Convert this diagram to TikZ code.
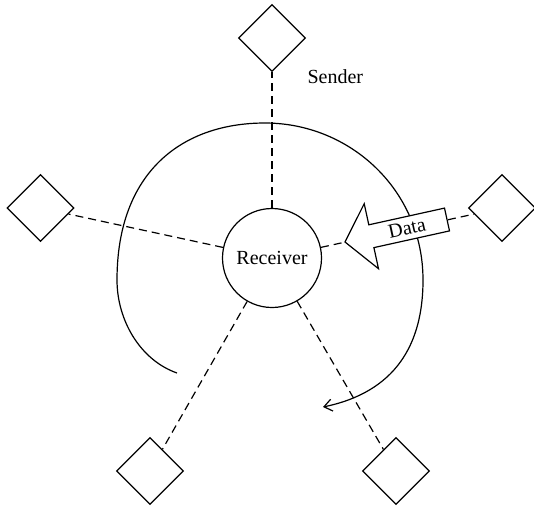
\documentclass[tikz,border=0pt]{standalone}
\usepackage{fontspec}
\setmainfont{Liberation Serif}
\usetikzlibrary{shapes.geometric,arrows.meta}
\begin{document}
\begin{tikzpicture}[x={(0.5pt,0)},y={(0,-0.5pt)},
  line width=0.6pt,
  station/.style={draw,diamond,aspect=1,inner sep=0pt,minimum width=33.5pt,minimum height=33.5pt},
  hub/.style={draw,circle,inner sep=0pt,minimum size=49.5pt,font=\fontsize{10}{12}\selectfont},
  link/.style={dash pattern=on 4pt off 2.5pt},
  lbl/.style={font=\fontsize{10}{12}\selectfont,inner sep=0pt}]
\useasboundingbox (0,0) rectangle (534,505);
\node[hub] (rx) at (272,258) {Receiver};
\node[station] (s1) at (272,38) {};
\node[station] (s2) at (40.5,208) {};
\node[station] (s3) at (502,208) {};
\node[station] (s4) at (150,471) {};
\node[station] (s5) at (396,471) {};
\foreach \s in {s1,s2,s3,s4,s5} \draw[link] (rx) -- (\s);
\node[lbl,anchor=west] (snd) at (307,77) {Sender};
\draw[-{Straight Barb[length=4pt,width=6pt]}] (177,373)
  .. controls (140,360) and (117,320) .. (117,280)
  .. controls (117,172) and (182,123) .. (265,123)
  .. controls (350,123) and (423,190) .. (423,280)
  .. controls (423,345) and (395,392) .. (323,407);
\draw[fill=white,line join=miter] (345,242) -- (364.2,203.7) -- (368.8,224.8) -- (444.5,208.1)
  -- (449.5,230.9) -- (373.9,247.6) -- (378.5,268.7) -- cycle;
\node[lbl,rotate=12.4] (data) at (407,228) {Data};
\end{tikzpicture}
\end{document}
